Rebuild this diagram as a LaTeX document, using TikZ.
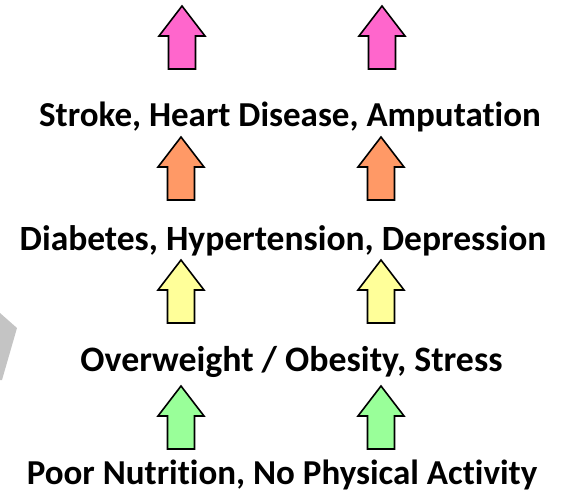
\documentclass[tikz,border=0pt]{standalone}
\usepackage{fontspec}
\setmainfont{Carlito}[Ligatures=NoCommon]
\usetikzlibrary{positioning}

\definecolor{pinkup}{HTML}{FF66CC}
\definecolor{orangeup}{HTML}{FF9966}
\definecolor{yellowup}{HTML}{FFFF99}
\definecolor{greenup}{HTML}{99FF99}
\definecolor{greyside}{HTML}{C4C4C4}

\tikzset{
  uparrow/.pic={
    \draw[line width=1.6pt, line join=miter, fill=#1]
      (0,0) -- (-23,30) -- (-13.5,30) -- (-13.5,63) -- (13.5,63)
      -- (13.5,30) -- (23,30) -- cycle;
  },
  causetext/.style={anchor=base, inner sep=0pt, font=\fontsize{35}{40}\selectfont\bfseries}
}

\begin{document}
\begin{tikzpicture}[x=1pt, y=-1pt]
\useasboundingbox (0,0) rectangle (562,498);
% cut-off shape at the left edge
\fill[greyside] (0,313) -- (17,328) -- (2,380) -- (0,380) -- cycle;
% levels, bottom to top
\node [causetext] (causes) at (282,484) {Poor Nutrition, No Physical Activity};
\node [causetext, font=\fontsize{35.8}{40}\selectfont\bfseries] (weight) at (291.5,371) {Overweight / Obesity, Stress};
\node [causetext, font=\fontsize{35.5}{40}\selectfont\bfseries] (disease) at (283,250) {Diabetes, Hypertension, Depression};
\node [causetext] (outcome) at (290,126) {Stroke, Heart Disease, Amputation};
% arrows between levels
\pic at (181,386) {uparrow=greenup};
\pic at (381,386) {uparrow=greenup};
\pic at (181,260) {uparrow=yellowup};
\pic at (381,260) {uparrow=yellowup};
\pic at (181,137) {uparrow=orangeup};
\pic at (381,137) {uparrow=orangeup};
\pic at (182,6) {uparrow=pinkup};
\pic at (382,6) {uparrow=pinkup};
\end{tikzpicture}
\end{document}
